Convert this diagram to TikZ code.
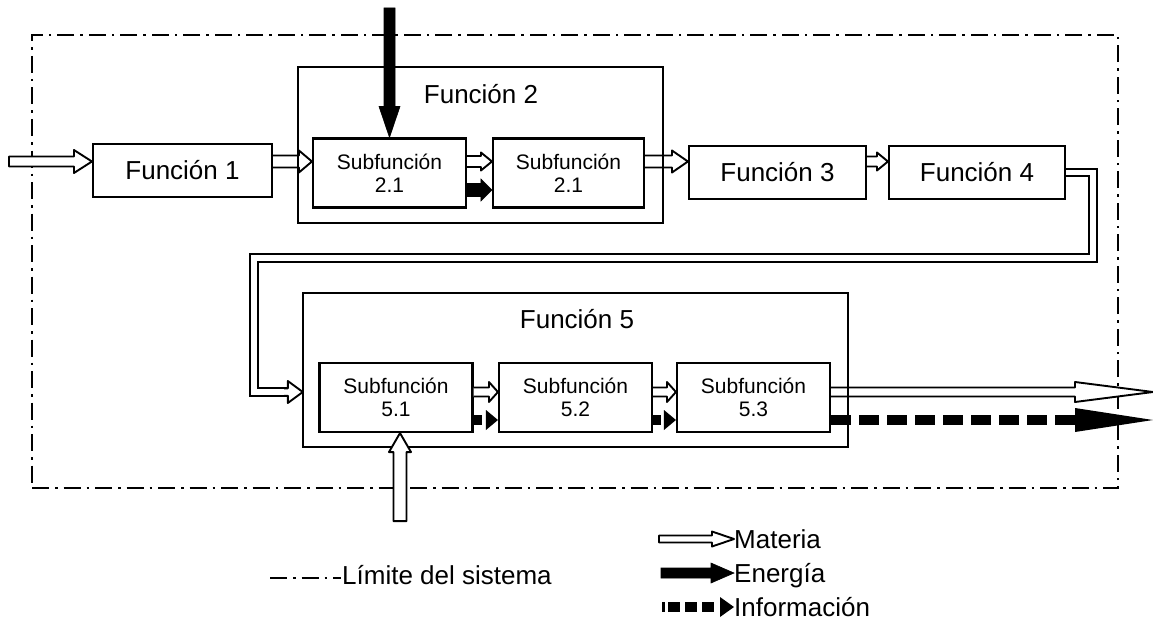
\documentclass[tikz,border=0pt]{standalone}
\usepackage{fontspec}
\setmainfont{Liberation Sans}
\usetikzlibrary{calc}

% Block arrow from #2 to #3 (style #1): shaft half width #4, head half width #5,
% head length #6, #7 closes the tail (-- cycle) or leaves it open.
\newcommand\flowarrow[7]{%
  \filldraw[#1] ($(#2)!#4!90:(#3)$)
    -- ($(#3)!#6!(#2)!#4!-90:(#2)$)
    -- ($(#3)!#6!(#2)!#5!-90:(#2)$)
    -- (#3)
    -- ($(#3)!#6!(#2)!#5!90:(#2)$)
    -- ($(#3)!#6!(#2)!#4!90:(#2)$)
    -- ($(#2)!#4!-90:(#3)$) #7;
}
% Dashed information arrow from #1 to #2: head half width #3, head length #4, dashes #5.
\newcommand\infoarrow[5]{%
  \draw[line width=10pt, dash pattern=#5] (#1) -- ($(#2)!#4!(#1)$);
  \fill ($(#2)!#4!(#1)!#3!90:(#1)$) -- (#2) -- ($(#2)!#4!(#1)!#3!-90:(#1)$) -- cycle;
}

\tikzset{
  box/.style={draw, line width=2.1pt, inner sep=0pt, minimum height=53pt,
    font=\fontsize{26pt}{30pt}\selectfont},
  subbox/.style={draw, line width=2.1pt, inner sep=0pt, align=center,
    minimum width=153pt, minimum height=69pt, font=\fontsize{21pt}{23pt}\selectfont},
  frame/.style={inner sep=0pt},
  group/.style={line width=2.1pt},
  title/.style={inner sep=0pt, font=\fontsize{26pt}{30pt}\selectfont},
  boundary/.style={line width=2pt, dash pattern=on 17pt off 6pt on 2.5pt off 6pt},
  matter/.style={fill=white, draw=black, line width=1.9pt, line join=round},
  energy/.style={fill=black, draw=black, line width=0.6pt, line join=miter},
  feedback/.style={line width=1.9pt, double=white, double distance=5.5pt},
  legendtext/.style={anchor=west, inner sep=0pt, text height=18.7pt, text depth=0pt,
    font=\fontsize{26pt}{30pt}\selectfont},
}

\begin{document}
\begin{tikzpicture}[x=1pt,y=-1pt]
\useasboundingbox (0,0) rectangle (1153,626);

% system boundary
\node[draw, boundary, inner sep=0pt, minimum width=1086pt, minimum height=453pt] (sys) at (575,261.5) {};

% group frames (drawn at the end, over the arrows)
\node[frame, minimum width=365pt, minimum height=156pt] (F2) at (480.5,145) {};
\node[frame, minimum width=545pt, minimum height=154pt] (F5) at (575.5,370) {};
\node[title] (F2t) at (481,94) {Función 2};
\node[title] (F5t) at (577,319) {Función 5};

% function blocks
\node[box, minimum width=179pt] (F1) at (182.5,170.5) {Función 1};
\node[subbox] (S21a) at (389.5,173) {Subfunción\\2.1};
\node[subbox, minimum width=151pt] (S21b) at (568.5,173) {Subfunción\\2.1};
\node[box, minimum width=177pt] (F3) at (777.5,172.5) {Función 3};
\node[box, minimum width=176pt] (F4) at (977,172.5) {Función 4};
\node[subbox] (S51) at (396,397.5) {Subfunción\\5.1};
\node[subbox] (S52) at (575.5,397.5) {Subfunción\\5.2};
\node[subbox] (S53) at (753.5,397.5) {Subfunción\\5.3};

% flow rows
\coordinate (r1) at (0,161.5);
\coordinate (r1e) at (0,190);
\coordinate (r5) at (0,392);
\coordinate (r5i) at (0,420);

% upper chain
\coordinate (in1) at ($(sys.west |- r1)+(-22,0)$);
\flowarrow{matter}{in1}{F1.west |- r1}{5pt}{11.5pt}{18pt}{-- cycle}
\flowarrow{matter}{F1.east |- r1}{S21a.west |- r1}{6pt}{11pt}{13pt}{}
\flowarrow{matter}{S21a.east |- r1}{S21b.west |- r1}{5.5pt}{9pt}{11pt}{}
\flowarrow{energy}{S21a.east |- r1e}{S21b.west |- r1e}{6.5pt}{11pt}{11pt}{}
\flowarrow{matter}{S21b.east |- r1}{F3.west |- r1}{6pt}{11pt}{16pt}{}
\flowarrow{matter}{F3.east |- r1}{F4.west |- r1}{5pt}{9pt}{11pt}{}

% energy input from above
\coordinate (etop) at (S21a.north |- 0,8);
\flowarrow{energy}{etop}{S21a.north}{5.5pt}{10.5pt}{31pt}{-- cycle}

% return line from Función 4 down to Función 5
\coordinate (fbR) at (1093,258);
\coordinate (fbL) at (254,258);
\coordinate (fbE) at (288,392);
\coordinate (fbS) at (284,392);
\draw[feedback] (F4.east) -| (fbR) -- (fbL) |- (fbE);
\flowarrow{matter}{fbS}{F5.west |- r5}{3.7pt}{11pt}{15pt}{}

% lower chain
\flowarrow{matter}{S51.east |- r5}{S52.west |- r5}{4.5pt}{10pt}{9pt}{}
\flowarrow{matter}{S52.east |- r5}{S53.west |- r5}{4.5pt}{10pt}{9pt}{}
\coordinate (outM) at (1153,392);
\coordinate (outI) at (1153,420);
\flowarrow{matter}{S53.east |- r5}{outM}{4.5pt}{10pt}{78pt}{}
\infoarrow{S51.east |- r5i}{S52.west |- r5i}{10pt}{12pt}{on 8pt off 20pt}
\infoarrow{S52.east |- r5i}{S53.west |- r5i}{10pt}{12pt}{on 8pt off 20pt}
\infoarrow{S53.east |- r5i}{outI}{12pt}{78pt}{on 20pt off 8pt}

% group frames
\draw[group] (F2.north west) rectangle (F2.south east);
\draw[group] (F5.north west) rectangle (F5.south east);

% matter input from below
\coordinate (binT) at ($(S51.south)+(4,0)$);
\coordinate (binB) at ($(S51.south)+(4,88)$);
\flowarrow{matter}{binB}{binT}{6.5pt}{11pt}{19pt}{-- cycle}

% legend
\node[legendtext] (Lmat) at (734,539) {Materia};
\node[legendtext] (Lene) at (734,573) {Energía};
\node[legendtext] (Linf) at (734,607) {Información};
\node[legendtext] (Llim) at (342,575) {Límite del sistema};
\coordinate (lm0) at ($(Lmat.west)+(-75,0)$);
\flowarrow{matter}{lm0}{Lmat.west}{3.5pt}{7.5pt}{22pt}{-- cycle}
\coordinate (le0) at ($(Lene.west)+(-73,0)$);
\flowarrow{energy}{le0}{Lene.west}{5pt}{10pt}{23pt}{-- cycle}
\coordinate (li0) at ($(Linf.west)+(-72,0)$);
\infoarrow{li0}{Linf.west}{10pt}{14pt}{on 3pt off 3pt on 12pt off 5pt on 12pt off 5pt on 12pt off 6pt}
\draw[boundary] ($(Llim.west)+(-72,3)$) -- ($(Llim.west)+(-1,3)$);
\end{tikzpicture}
\end{document}
